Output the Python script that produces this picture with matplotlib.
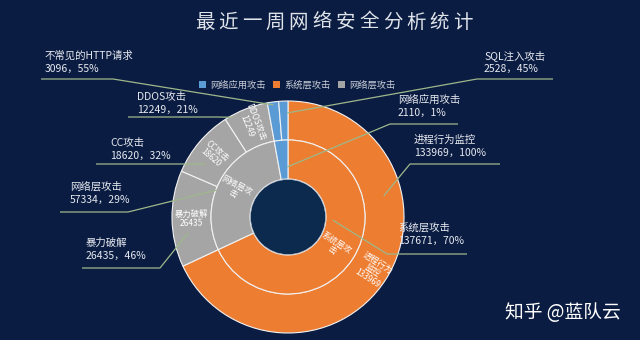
import numpy as np
import matplotlib.pyplot as plt
from matplotlib.patches import Patch, Circle

plt.rcParams['font.family'] = ['Noto Sans CJK SC', 'DejaVu Sans']

title = "最近一周网络安全分析统计"

# inner ring (parents)
parent_names = ["系统层攻击", "网络层攻击", "网络应用攻击"]
parent_values = [137671, 57334, 2110]
parent_pct = ["70%", "29%", "1%"]

# outer ring (children), in drawing order
child_names = ["进程行为监控", "暴力破解", "CC攻击", "DDOS攻击", "不常见的HTTP请求", "SQL注入攻击"]
child_values = [133969, 26435, 18620, 12249, 3096, 2528]
child_pct = ["100%", "46%", "32%", "21%", "55%", "45%"]
child_parent = [0, 1, 1, 1, 2, 2]

legend_order = ["网络应用攻击", "系统层攻击", "网络层攻击"]

parent_colors = ["#ED7D31", "#A5A5A5", "#5B9BD5"]
BG = "#0b1c42"
HOLE = "#0c2a4d"
LINE = "#9db88a"
TXT = "#e6e9ef"

W, H = 640, 340
CX, CY = 288, H - 217
R_OUT, R_MID, R_IN = 116, 77, 38

fig = plt.figure(figsize=(6.4, 3.4), dpi=100, facecolor=BG)
ax = fig.add_axes([0, 0, 1, 1])
ax.set_facecolor(BG)

# inner ring sizes follow the sum of the leaves, as the sunburst does
inner_sizes = [sum(v for v, p in zip(child_values, child_parent) if p == k)
               for k in range(len(parent_names))]
child_colors = [parent_colors[p] for p in child_parent]

wp = dict(width=R_OUT - R_MID, edgecolor="#f2f2f2", linewidth=0.8)
ax.pie(child_values, radius=R_OUT, center=(CX, CY), startangle=90,
       counterclock=False, colors=child_colors, wedgeprops=wp)
wp_in = dict(width=R_MID - R_IN, edgecolor="#f2f2f2", linewidth=0.8)
ax.pie(inner_sizes, radius=R_MID, center=(CX, CY), startangle=90,
       counterclock=False, colors=parent_colors, wedgeprops=wp_in)
ax.add_patch(Circle((CX, CY), R_IN - 0.4, facecolor=HOLE, edgecolor="#c9d0da",
                    linewidth=0.5, zorder=3))

ax.set_xlim(0, W)
ax.set_ylim(0, H)
ax.set_aspect("equal")
ax.axis("off")


def cw_mid(values):
    c = np.cumsum(values) / np.sum(values) * 360
    return c - np.array(values) / np.sum(values) * 180


def polar(ang, r):
    a = np.radians(ang)
    return CX + r * np.sin(a), CY + r * np.cos(a)


def radial_rot(ang):
    m = 90 - ang
    m = (m + 180) % 360 - 180
    if m > 90:
        m -= 180
    elif m < -90:
        m += 180
    return m


child_mid = cw_mid(child_values)
parent_mid = cw_mid(inner_sizes)

# labels inside the wedges
in_child = {0: ("进程行为\n监控\n{v}", 100), 1: ("暴力破解\n{v}", 97),
            2: ("CC攻击\n{v}", 97), 3: ("DDOS攻击\n{v}", 100)}
for i, (fmt, r) in in_child.items():
    x, y = polar(child_mid[i], r)
    ax.text(x, y, fmt.format(v=child_values[i]), color="white", fontsize=6,
            ha="center", va="center", rotation=radial_rot(child_mid[i]),
            rotation_mode="anchor", linespacing=1.0, zorder=5)
in_parent = {0: ("系统层攻\n击", 55), 1: ("网络层攻\n击", 60)}
for i, (txt, r) in in_parent.items():
    x, y = polar(parent_mid[i], r)
    ax.text(x, y, txt, color="white", fontsize=6, ha="center", va="center",
            rotation=radial_rot(parent_mid[i]), rotation_mode="anchor",
            linespacing=1.0, zorder=5)

# callouts: (kind, index, text x, name y, line y, far x, elbow x, anchor angle, anchor r)
callouts = [
    ("c", 4, 45, 56, 79, 41, 113, 352.6, 113),
    ("c", 3, 137, 97, 117, 128, 217, 331, 114),
    ("c", 2, 110, 143, 164, 96, 190, 302.6, 98),
    ("p", 1, 70, 187, 212, 60, 128, 290.8, 76),
    ("c", 1, 86, 243, 268, 82, 160, 261, 101),
    ("c", 5, 484, 56, 79, 553, 477, 359.5, 104),
    ("p", 2, 398, 100, 124, 458, 390, 359, 50),
    ("c", 0, 414, 140, 164, 500, 410, 77.6, 98),
    ("p", 0, 398, 228, 254, 467, 387, 94, 45),
]
for kind, i, tx, ty, ly, fx, ex, ang, r in callouts:
    if kind == "c":
        name, val, pct = child_names[i], child_values[i], child_pct[i]
    else:
        name, val, pct = parent_names[i], parent_values[i], parent_pct[i]
    ax.text(tx, H - ty, name, color=TXT, fontsize=7.5, ha="left", va="center")
    ax.text(tx, H - ty - 13, f"{val}，{pct}", color=TXT, fontsize=7.5,
            ha="left", va="center")
    axx, ayy = polar(ang, r)
    ax.plot([fx, ex, axx], [H - ly, H - ly, ayy], color=LINE, lw=0.9,
            solid_capstyle="butt", zorder=6)

# title with wide letter spacing
for k, ch in enumerate(title):
    ax.text(204.5 + k * 23.5, H - 22, ch, color="#dfe3ea", fontsize=14,
            ha="center", va="center")

# legend
handles = [Patch(facecolor=parent_colors[parent_names.index(nm)], edgecolor="none")
           for nm in legend_order]
ax.legend(handles, legend_order, loc="center", bbox_to_anchor=(297 / W, 1 - 85 / H),
          bbox_transform=fig.transFigure, ncol=3, frameon=False, fontsize=6.7,
          handlelength=0.8, handleheight=0.8, handletextpad=0.4, columnspacing=0.8,
          labelcolor="#c8cdd6")

# watermark
ax.text(563, H - 313, "知乎 @蓝队云", color="white", fontsize=13.5,
        ha="center", va="center")

fig.savefig("out.png", dpi=100, facecolor=BG)
